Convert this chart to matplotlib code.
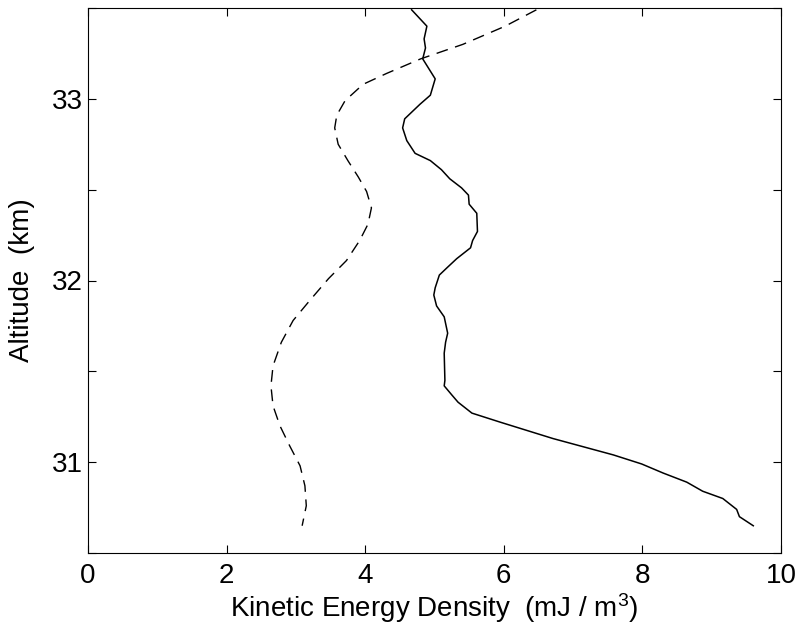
import matplotlib
matplotlib.use("Agg")
import matplotlib.pyplot as plt
from matplotlib.ticker import MultipleLocator

plt.rcParams["font.family"] = ["Liberation Sans", "DejaVu Sans"]
plt.rcParams["mathtext.default"] = "regular"

# solid curve (altitude km, energy mJ/m^3)
solid_alt = [33.49, 33.40, 33.33, 33.28, 33.22, 33.11, 33.02, 32.97, 32.89, 32.84,
             32.77, 32.70, 32.66, 32.61, 32.56, 32.51, 32.47, 32.42, 32.37, 32.27,
             32.22, 32.18, 32.12, 32.07, 32.03, 31.96, 31.92, 31.86, 31.80, 31.71,
             31.66, 31.60, 31.45, 31.42, 31.37, 31.33, 31.27, 31.22, 31.13, 31.04,
             30.99, 30.94, 30.89, 30.84, 30.80, 30.74, 30.70, 30.65]
solid_ke = [4.67, 4.89, 4.85, 4.87, 4.83, 5.01, 4.94, 4.79, 4.57, 4.54,
            4.60, 4.72, 4.94, 5.10, 5.22, 5.39, 5.49, 5.50, 5.61, 5.62,
            5.55, 5.52, 5.32, 5.18, 5.07, 5.01, 4.99, 5.03, 5.14, 5.19,
            5.16, 5.14, 5.15, 5.14, 5.25, 5.34, 5.54, 5.95, 6.71, 7.58,
            7.99, 8.30, 8.64, 8.87, 9.16, 9.36, 9.40, 9.60]

# dashed curve
dash_alt = [33.49, 33.40, 33.30, 33.22, 33.14, 33.08, 32.99, 32.91, 32.84, 32.75,
            32.66, 32.57, 32.49, 32.40, 32.31, 32.22, 32.11, 32.01, 31.89, 31.78,
            31.66, 31.53, 31.42, 31.31, 31.20, 31.09, 30.98, 30.87, 30.76, 30.65]
dash_ke = [6.47, 6.02, 5.41, 4.80, 4.31, 3.97, 3.71, 3.59, 3.56, 3.61,
           3.75, 3.90, 4.02, 4.09, 4.04, 3.92, 3.73, 3.47, 3.20, 2.96,
           2.79, 2.67, 2.64, 2.67, 2.77, 2.91, 3.06, 3.13, 3.15, 3.09]

fig = plt.figure(figsize=(7.96, 6.31), dpi=100)
ax = fig.add_axes([88 / 796, 78 / 631, 693 / 796, 545 / 631])

ax.plot(solid_ke, solid_alt, color="black", linewidth=1.1)
ax.plot(dash_ke, dash_alt, color="black", linewidth=1.0, dashes=(8.5, 5.5))

ax.set_xlim(0, 10)
ax.set_ylim(30.5, 33.5)
ax.xaxis.set_major_locator(MultipleLocator(2))
ax.yaxis.set_major_locator(MultipleLocator(1))
ax.yaxis.set_minor_locator(MultipleLocator(0.5))
ax.tick_params(which="both", direction="in", top=True, right=True,
               length=6, width=0.8, labelsize=20)
ax.tick_params(axis="x", pad=7)
ax.tick_params(axis="y", pad=4)

ax.set_xlabel("Kinetic Energy Density  (mJ / m$^3$)", fontsize=20, labelpad=2)
ax.set_ylabel("Altitude  (km)", fontsize=20, labelpad=12)

fig.savefig("out.png", dpi=100)
